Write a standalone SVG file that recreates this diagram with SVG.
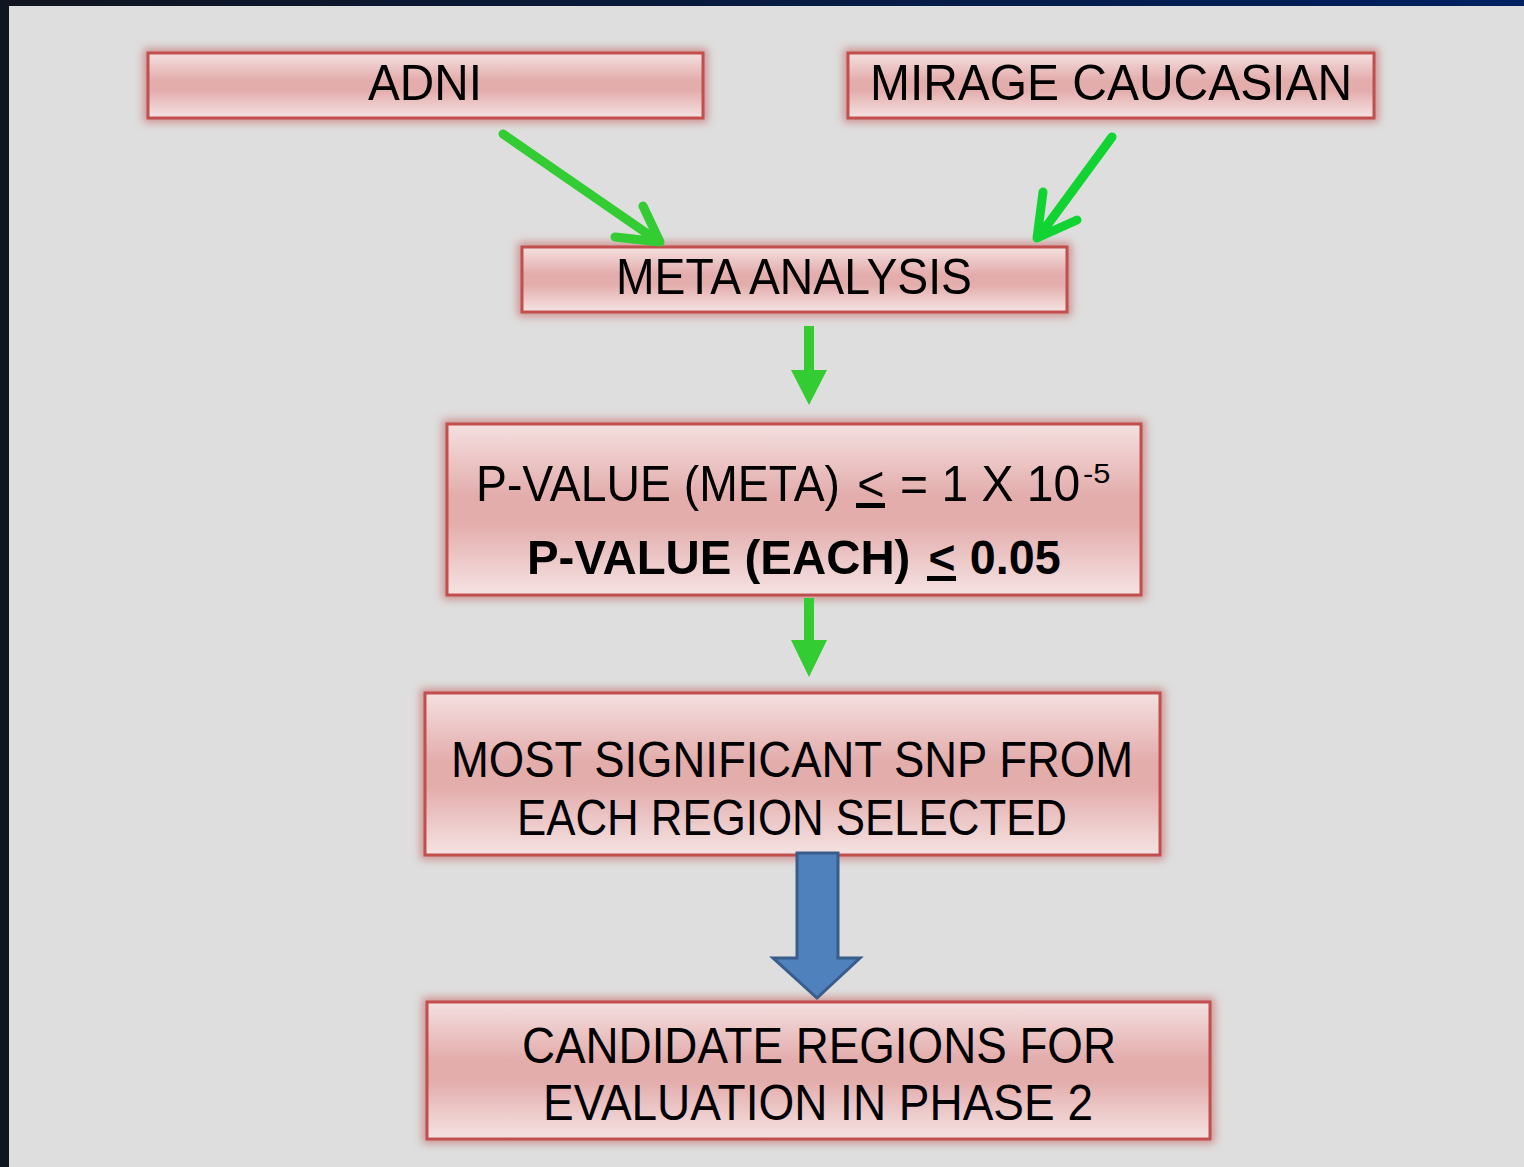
<svg xmlns="http://www.w3.org/2000/svg" width="1524" height="1167" viewBox="0 0 1524 1167">
<defs>
<linearGradient id="top" x1="0" y1="0" x2="1" y2="0">
<stop offset="0" stop-color="#10151f"/><stop offset="1" stop-color="#002060"/>
</linearGradient>
<linearGradient id="boxg" x1="0" y1="0" x2="0" y2="1">
<stop offset="0" stop-color="#f4e0e0"/><stop offset="0.42" stop-color="#e3adac"/><stop offset="0.58" stop-color="#e3adac"/><stop offset="1" stop-color="#f5e3e3"/>
</linearGradient>
<filter id="glow" x="-10%" y="-30%" width="120%" height="160%">
<feMorphology in="SourceAlpha" operator="dilate" radius="3" result="d"/>
<feGaussianBlur in="d" stdDeviation="4" result="b"/>
<feFlood flood-color="#c0504d" flood-opacity="0.55"/>
<feComposite in2="b" operator="in" result="g"/>
<feMerge><feMergeNode in="g"/><feMergeNode in="SourceGraphic"/></feMerge>
</filter>
<style>
.box{fill:url(#boxg);stroke:#c0504d;stroke-width:3;filter:url(#glow)}
.t{font-family:"Liberation Sans",Arial,sans-serif;font-size:50px;fill:#000;text-anchor:start}
.b{font-weight:bold;font-size:49px}
.ga{fill:none;stroke:#33cc33;stroke-width:9;stroke-linecap:round;stroke-linejoin:round}
.gd{fill:#33cc33}
.blue{fill:#4f81bd;stroke:#385d8a;stroke-width:3}
</style>
</defs>
<rect width="1524" height="1167" fill="#dedede"/>
<rect width="1524" height="6" fill="url(#top)"/>
<rect width="9" height="1167" fill="#0f1521"/>

<g id="adni">
<rect class="box" x="148" y="53" width="555" height="65"/>
<text class="t" x="368" y="100" textLength="114" lengthAdjust="spacingAndGlyphs">ADNI</text>
</g>
<g id="mirage">
<rect class="box" x="848" y="53" width="526" height="65"/>
<text class="t" x="870" y="100" textLength="482" lengthAdjust="spacingAndGlyphs">MIRAGE CAUCASIAN</text>
</g>
<g id="meta">
<rect class="box" x="522" y="247" width="545" height="65"/>
<text class="t" x="616" y="294" textLength="356" lengthAdjust="spacingAndGlyphs">META ANALYSIS</text>
</g>
<g id="pvalue">
<rect class="box" x="447" y="424" width="694" height="171"/>
<text class="t" transform="translate(476,501) scale(0.91,1)"><tspan x="0" y="0" textLength="400" lengthAdjust="spacingAndGlyphs">P-VALUE (META)</tspan><tspan x="419" y="0" textLength="30" lengthAdjust="spacingAndGlyphs">&lt;</tspan><tspan x="466" y="0" textLength="198" lengthAdjust="spacingAndGlyphs">= 1 X 10</tspan><tspan x="667" y="-18" style="font-size:28px" textLength="30" lengthAdjust="spacingAndGlyphs">-5</tspan></text>
<rect x="856" y="503" width="29" height="5" fill="#000"/>
<text class="t b" transform="translate(527,574) scale(0.9,1)"><tspan x="0" y="0" textLength="426" lengthAdjust="spacingAndGlyphs">P-VALUE (EACH)</tspan><tspan x="446" y="0" textLength="30" lengthAdjust="spacingAndGlyphs">&lt;</tspan><tspan x="492" y="0" textLength="101" lengthAdjust="spacingAndGlyphs">0.05</tspan></text>
<rect x="927" y="576" width="29" height="5" fill="#000"/>
</g>
<g id="most">
<rect class="box" x="425" y="693" width="735" height="162"/>
<text class="t" x="451" y="777" textLength="682" lengthAdjust="spacingAndGlyphs">MOST SIGNIFICANT SNP FROM</text>
<text class="t" x="517" y="835" textLength="550" lengthAdjust="spacingAndGlyphs">EACH REGION SELECTED</text>
</g>
<g id="candidate">
<rect class="box" x="427" y="1002" width="783" height="137"/>
<text class="t" x="522" y="1063" textLength="594" lengthAdjust="spacingAndGlyphs">CANDIDATE REGIONS FOR</text>
<text class="t" x="543" y="1120" textLength="550" lengthAdjust="spacingAndGlyphs">EVALUATION IN PHASE 2</text>
</g>

<g id="connectors">
<path class="ga" d="M503,134 L655,239 M615,237 L660,242 L643,206"/>
<path class="ga" style="stroke:#11d433" d="M1112,137 L1040,235 M1043,192 L1037,238 L1077,220"/>
<polygon class="gd" points="804,326 814,326 814,370 827,370 809,405 791,370 804,370"/>
<polygon class="gd" points="804,598 814,598 814,640 827,640 809,677 791,640 804,640"/>
<polygon class="blue" points="797,853 838,853 838,958 860,958 817,998 773,958 797,958"/>
</g>
</svg>
